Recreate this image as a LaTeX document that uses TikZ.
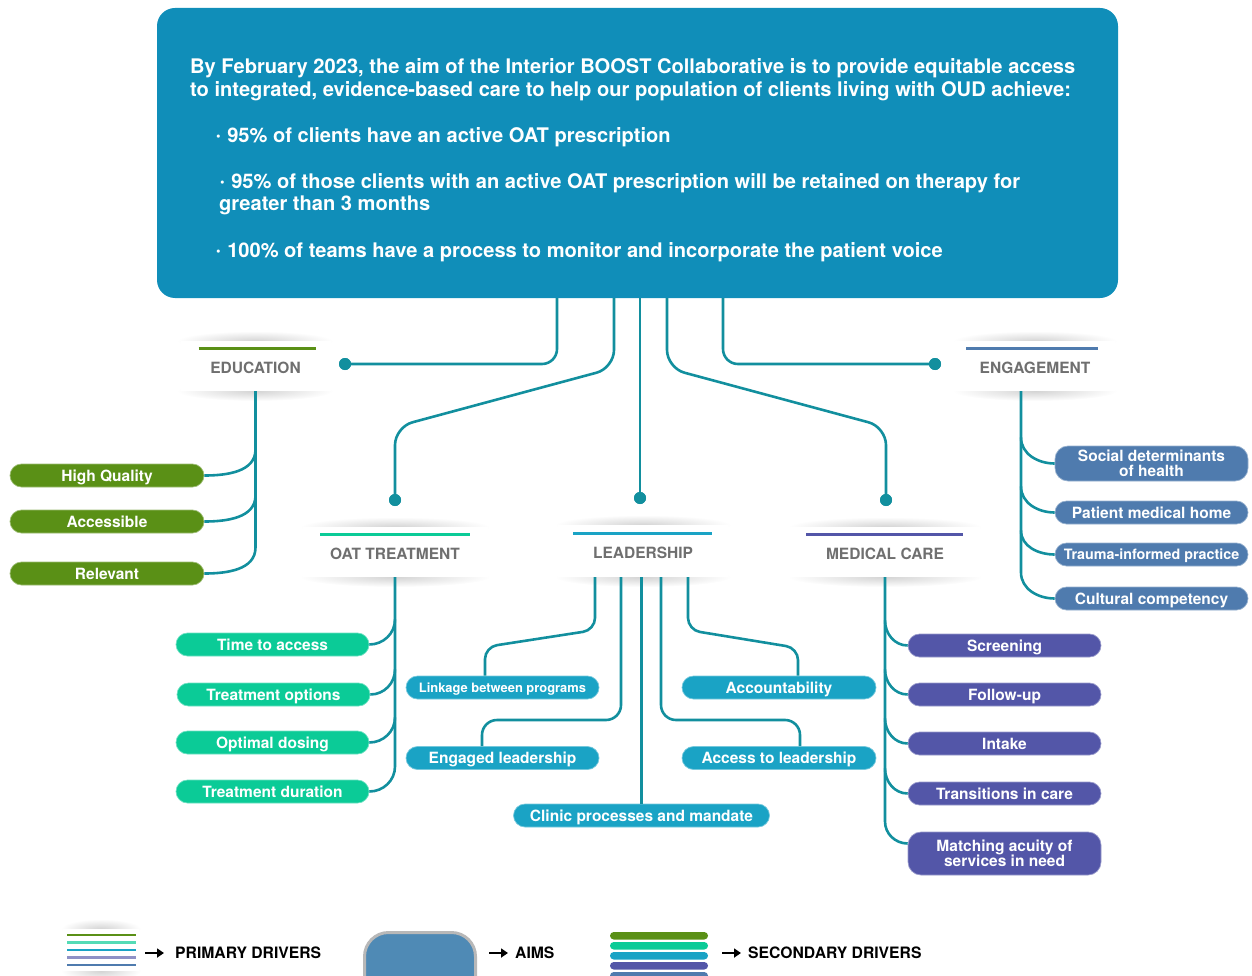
\documentclass[tikz,border=0pt]{standalone}
\usepackage{fontspec}
\setmainfont{TeX Gyre Heros}
\usetikzlibrary{calc,arrows.meta}
\definecolor{aimblue}{HTML}{108EB9}
\definecolor{colconn}{HTML}{128F9E}
\definecolor{colgreen}{HTML}{5A9016}
\definecolor{colmint}{HTML}{0BCB97}
\definecolor{colcyan}{HTML}{1AA3C5}
\definecolor{colpurple}{HTML}{5356A8}
\definecolor{colsteel}{HTML}{4F7BAE}
\definecolor{colhdr}{HTML}{6F6F6F}
\definecolor{legaim}{HTML}{4F8AB5}
\newcommand\bul{{\fontsize{13}{13}\selectfont\raisebox{1.5pt}{•}}\hspace{6.5pt}}
\newcommand\hdrshadow[4]{%
  \shade[inner color=black!17, outer color=white] (#1,#2) ellipse [x radius=#4, y radius=10];
  \shade[inner color=black!17, outer color=white] (#1,#3) ellipse [x radius=#4, y radius=10];}
\begin{document}
\begin{tikzpicture}[x=1pt,y=-1pt,
  conn/.style={draw=colconn, line width=2.6},
  dot/.style={circle, fill=colconn, minimum size=12, inner sep=0},
  pill/.style={fill=#1, draw=#1!60!white, line width=0.7, rounded corners=11.5, minimum height=23, inner sep=0, text=white, font=\bfseries\fontsize{15.5}{15}\selectfont, text height=11.2, text depth=0},
  pilltwo/.style={fill=#1, draw=#1!60!white, line width=0.7, rounded corners=13, inner sep=0, text=white, font=\bfseries\fontsize{15.5}{15}\selectfont, align=center},
  hdr/.style={fill=white, inner sep=0, text=colhdr, font=\bfseries\fontsize{15.5}{16}\selectfont, text height=15.2, text depth=0},
  aimtxt/.style={anchor=base west, inner sep=0, text=white, font=\bfseries\fontsize{20.1}{23}\selectfont},
  legtxt/.style={anchor=west, inner sep=0, text=black, font=\bfseries\fontsize{15.7}{15}\selectfont},
  legarrow/.style={line width=2.4, -{Triangle[length=7,width=9]}},
  hline/.style={line width=3}
]
\useasboundingbox (0,0) rectangle (1252,976);
\clip (0,0) rectangle (1252,976);

% ---------- AIM box ----------
\node[fill=aimblue, rounded corners=18, minimum width=961, minimum height=290, inner sep=0] (aim) at (637.5,153) {};
\node[aimtxt] (t1) at (190,73.5) {By February 2023, the aim of the Interior BOOST Collaborative is to provide equitable access};
\node[aimtxt] (t2) at (190,97) {to integrated, evidence-based care to help our population of clients living with OUD achieve:};
\node[aimtxt] (t3) at (216,142.5) {\bul 95\% of clients have an active OAT prescription};
\node[aimtxt] (t4) at (220,188.5) {\bul 95\% of those clients with an active OAT prescription will be retained on therapy for};
\node[aimtxt] (t5) at (219,210.5) {greater than 3 months};
\node[aimtxt] (t6) at (216,257.5) {\bul 100\% of teams have a process to monitor and incorporate the patient voice};

% ---------- primary driver headers ----------
\hdrshadow{255}{341}{391}{78}
\node[hdr, minimum width=150, minimum height=50] (edu) at (255.5,366) {EDUCATION};
\draw[hline, colgreen] ($(edu.north)+(-57,8)$) -- ($(edu.north)+(60,8)$);

\hdrshadow{1035}{341}{391}{82}
\node[hdr, minimum width=160, minimum height=50] (eng) at (1035,366) {ENGAGEMENT};
\draw[hline, colsteel] ($(eng.north)+(-69,8)$) -- ($(eng.north)+(63,8)$);
\coordinate (engt) at ([xshift=-14pt]eng.south);

\hdrshadow{395}{527}{577}{95}
\node[hdr, minimum width=185, minimum height=50] (oat) at (395,552) {OAT TREATMENT};
\draw[hline, colmint] ($(oat.north)+(-75,8)$) -- ($(oat.north)+(75,8)$);

\hdrshadow{643}{525}{577}{88}
\node[hdr, minimum width=170, minimum height=52] (lead) at (643,551) {LEADERSHIP};
\draw[hline, colcyan] ($(lead.north)+(-70,9)$) -- ($(lead.north)+(69,9)$);

\hdrshadow{885}{527}{577}{97}
\node[hdr, minimum width=190, minimum height=50] (med) at (885,552) {MEDICAL CARE};
\draw[hline, colpurple] ($(med.north)+(-79,8)$) -- ($(med.north)+(78,8)$);

% ---------- dots ----------
\node[dot] (d1) at (345,364) {};
\node[dot] (d2) at (395,500) {};
\node[dot] (d3) at (640,498) {};
\node[dot] (d4) at (886,500) {};
\node[dot] (d5) at (935,364) {};

% ---------- aim connectors ----------
\draw[conn, rounded corners=15] ([xshift=-80.5pt]aim.south) |- (d1.center);
\draw[conn, rounded corners=18] ([xshift=-23.5pt]aim.south) -- (614,368) -- (395,427) -- (d2.center);
\draw[conn] ([xshift=2.5pt]aim.south) -- (d3.center);
\draw[conn, rounded corners=18] ([xshift=29.5pt]aim.south) -- (667,368) -- (886,427) -- (d4.center);
\draw[conn, rounded corners=15] ([xshift=85.5pt]aim.south) |- (d5.center);
\foreach \d in {d1,d2,d3,d4,d5} \node[dot] at (\d) {};

% ---------- education ----------
\node[pill=colgreen, minimum width=194] (hq) at (107,475.5) {High Quality};
\node[pill=colgreen, minimum width=194] (acc) at (107,521.5) {Accessible};
\node[pill=colgreen, minimum width=194] (rel) at (107,573.5) {Relevant};
\draw[conn] (edu.south) -- ($(edu.south|-rel.east)+(0,-26)$) to[out=-90,in=0] (rel.east);
\draw[conn] ($(edu.south|-hq.east)+(0,-26)$) to[out=-90,in=0] (hq.east);
\draw[conn] ($(edu.south|-acc.east)+(0,-26)$) to[out=-90,in=0] (acc.east);

% ---------- OAT treatment ----------
\node[pill=colmint, minimum width=193] (tta) at (272.5,644.5) {Time to access};
\node[pill=colmint, minimum width=193] (tro) at (273.5,694.5) {Treatment options};
\node[pill=colmint, minimum width=193] (opd) at (272.5,742.5) {Optimal dosing};
\node[pill=colmint, minimum width=193] (trd) at (272.5,791.5) {Treatment duration};
\draw[conn] (oat.south) -- ($(oat.south|-trd.east)+(0,-25)$) to[out=-90,in=0] (trd.east);
\draw[conn] ($(oat.south|-tta.east)+(0,-25)$) to[out=-90,in=0] (tta.east);
\draw[conn] ($(oat.south|-tro.east)+(0,-25)$) to[out=-90,in=0] (tro.east);
\draw[conn] ($(oat.south|-opd.east)+(0,-25)$) to[out=-90,in=0] (opd.east);

% ---------- leadership ----------
\node[pill=colcyan, minimum width=193, font=\bfseries\fontsize{12.9}{13}\selectfont, text height=9.3] (link) at (502.5,687.5) {Linkage between programs};
\node[pill=colcyan, minimum width=193] (engl) at (502.5,758) {Engaged leadership};
\node[pill=colcyan, minimum width=256] (clin) at (641.5,815.5) {Clinic processes and mandate};
\node[pill=colcyan, minimum width=194] (acct) at (779,687.5) {Accountability};
\node[pill=colcyan, minimum width=194] (accl) at (779,758) {Access to leadership};
\draw[conn, rounded corners=12] ([xshift=-48pt]lead.south) -- (595,630) -- (485,647) -- ([xshift=-17.5pt]link.north);
\draw[conn, rounded corners=15] ([xshift=-22pt]lead.south) -- (621,720) -- (482,720) -- ([xshift=-20.5pt]engl.north);
\draw[conn] (clin.north|-lead.south) -- (clin.north);
\draw[conn, rounded corners=15] ([xshift=18pt]lead.south) -- (661,720) -- (800,720) -- ([xshift=21pt]accl.north);
\draw[conn, rounded corners=12] ([xshift=45pt]lead.south) -- (688,630) -- (798,648) -- ([xshift=19pt]acct.north);

% ---------- medical care ----------
\node[pill=colpurple, minimum width=193] (scr) at (1004.5,645.5) {Screening};
\node[pill=colpurple, minimum width=193] (fol) at (1004.5,694.5) {Follow-up};
\node[pill=colpurple, minimum width=193] (inta) at (1004.5,743.5) {Intake};
\node[pill=colpurple, minimum width=193] (tic) at (1004.5,793.5) {Transitions in care};
\node[pilltwo=colpurple, minimum width=193, minimum height=43] (mat) at (1004.5,853.5) {Matching acuity of\\services in need};
\draw[conn] (med.south) -- ($(med.south|-mat.west)+(0,-32)$) to[out=-90,in=180] ([yshift=10pt]mat.west);
\draw[conn] ($(med.south|-scr.west)+(0,-25)$) to[out=-90,in=180] (scr.west);
\draw[conn] ($(med.south|-fol.west)+(0,-25)$) to[out=-90,in=180] (fol.west);
\draw[conn] ($(med.south|-inta.west)+(0,-25)$) to[out=-90,in=180] (inta.west);
\draw[conn] ($(med.south|-tic.west)+(0,-25)$) to[out=-90,in=180] (tic.west);

% ---------- engagement ----------
\node[pilltwo=colsteel, minimum width=193, minimum height=35] (sdh) at (1151.5,463.5) {Social determinants\\of health};
\node[pill=colsteel, minimum width=193] (pmh) at (1151.5,512.5) {Patient medical home};
\node[pill=colsteel, minimum width=193, font=\bfseries\fontsize{14.3}{14}\selectfont, text height=10.3] (tip) at (1151.5,554.5) {Trauma-informed practice};
\node[pill=colsteel, minimum width=193] (cc) at (1151.5,598.5) {Cultural competency};
\draw[conn] (engt) -- ($(engt|-cc.west)+(0,-26)$) to[out=-90,in=180] (cc.west);
\draw[conn] ($(engt|-sdh.west)+(0,-26)$) to[out=-90,in=180] (sdh.west);
\draw[conn] ($(engt|-pmh.west)+(0,-26)$) to[out=-90,in=180] (pmh.west);
\draw[conn] ($(engt|-tip.west)+(0,-24)$) to[out=-90,in=180] (tip.west);

% ---------- legend ----------
\hdrshadow{101}{929}{971}{40}
\fill[white] (63,929) rectangle (139,971);
\draw[line width=2, colgreen] (67,935) -- (136,935);
\draw[line width=2.2, colmint!70!white] (67,942.5) -- (136,942.5);
\draw[line width=2, colcyan] (67,950) -- (136,950);
\draw[line width=3, colpurple!65!white] (67,957.5) -- (136,957.5);
\draw[line width=2, colsteel] (67,965) -- (136,965);
\coordinate (a1s) at (145,953); \coordinate (a1e) at (164,953);
\draw[legarrow] (a1s) -- (a1e);
\node[legtxt] (lg1) at (175,953) {PRIMARY DRIVERS};

\draw[fill=legaim, draw=black!28, line width=3, rounded corners=24] (364.5,932.5) rectangle (475.5,1010);
\coordinate (a2s) at (489,953); \coordinate (a2e) at (508,953);
\draw[legarrow] (a2s) -- (a2e);
\node[legtxt] (lg2) at (515,953) {AIMS};

\fill[colgreen, rounded corners=3.7] (610,932) rectangle (708,939.5);
\fill[colmint, rounded corners=3.7] (610,942) rectangle (708,949.5);
\fill[colcyan, rounded corners=3.7] (610,952) rectangle (708,959.5);
\fill[colpurple, rounded corners=3.7] (610,962) rectangle (708,969.5);
\fill[colsteel, rounded corners=3.7] (610,972) rectangle (708,979.5);
\coordinate (a3s) at (722,953); \coordinate (a3e) at (741,953);
\draw[legarrow] (a3s) -- (a3e);
\node[legtxt] (lg3) at (748,953) {SECONDARY DRIVERS};
\end{tikzpicture}
\end{document}
